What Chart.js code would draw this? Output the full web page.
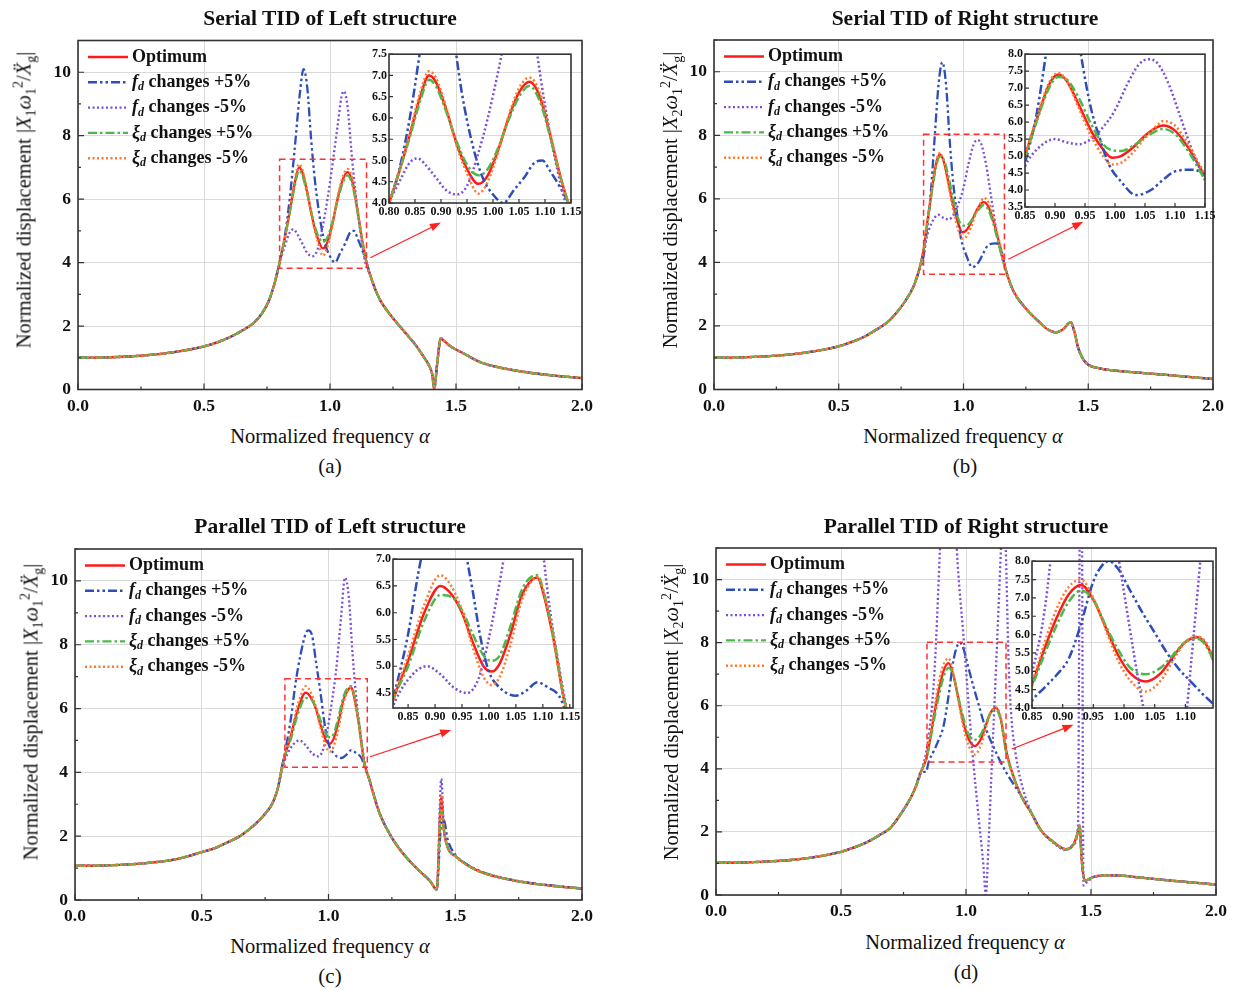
<!DOCTYPE html>
<html>
<head>
<meta charset="utf-8">
<script src="https://cdn.jsdelivr.net/npm/chart.js@4.4.1/dist/chart.umd.min.js"></script>
<style>
  body { margin: 0; background: #fff; }
  #fig { position: relative; width: 1234px; height: 990px; font-family: "Liberation Serif", "Times New Roman", serif; color: #111; }
  canvas { position: absolute; }
  .t { position: absolute; transform: translate(-50%, -50%); white-space: nowrap; }
  .title { font-weight: bold; font-size: 21.5px; }
  .xt { font-size: 20.5px; }
  .cap { font-size: 21px; }
  .yt { font-size: 20.5px; transform: translate(-50%, -50%) rotate(-90deg); }
  .yt sub, .yt sup { font-size: 14px; }
</style>
</head>
<body>
<div id="fig">
  <canvas id="ca"></canvas><canvas id="ia"></canvas>
  <canvas id="cb"></canvas><canvas id="ib"></canvas>
  <canvas id="cc"></canvas><canvas id="ic"></canvas>
  <canvas id="cd"></canvas><canvas id="id"></canvas>

  <div class="t title" style="left:330px;top:18px">Serial TID of Left structure</div>
  <div class="t title" style="left:965px;top:18px">Serial TID of Right structure</div>
  <div class="t title" style="left:330px;top:526px">Parallel TID of Left structure</div>
  <div class="t title" style="left:966px;top:526px">Parallel TID of Right structure</div>

  <div class="t yt" style="left:25px;top:200px">Normalized displacement |<i>X</i><sub>1</sub><i>ω</i><sub>1</sub><sup>2</sup>/<i>X&#776;</i><sub>g</sub>|</div>
  <div class="t yt" style="left:672px;top:200px">Normalized displacement |<i>X</i><sub>2</sub><i>ω</i><sub>1</sub><sup>2</sup>/<i>X&#776;</i><sub>g</sub>|</div>
  <div class="t yt" style="left:32px;top:712px">Normalized displacement |<i>X</i><sub>1</sub><i>ω</i><sub>1</sub><sup>2</sup>/<i>X&#776;</i><sub>g</sub>|</div>
  <div class="t yt" style="left:673px;top:712px">Normalized displacement |<i>X</i><sub>2</sub><i>ω</i><sub>1</sub><sup>2</sup>/<i>X&#776;</i><sub>g</sub>|</div>

  <div class="t xt" style="left:330px;top:436px">Normalized frequency <i>α</i></div>
  <div class="t xt" style="left:963px;top:436px">Normalized frequency <i>α</i></div>
  <div class="t xt" style="left:330px;top:946px">Normalized frequency <i>α</i></div>
  <div class="t xt" style="left:965px;top:942px">Normalized frequency <i>α</i></div>

  <div class="t cap" style="left:330px;top:466px">(a)</div>
  <div class="t cap" style="left:965px;top:466px">(b)</div>
  <div class="t cap" style="left:330px;top:976px">(c)</div>
  <div class="t cap" style="left:966px;top:972px">(d)</div>
</div>

<script>
'use strict';

// Tick labels
const mainXTicks = [0, 0.5, 1.0, 1.5, 2.0];
const mainYTicks = [0, 2, 4, 6, 8, 10];
const aInsetXTicks = [0.80, 0.85, 0.90, 0.95, 1.00, 1.05, 1.10, 1.15];
const aInsetYTicks = [4.0, 4.5, 5.0, 5.5, 6.0, 6.5, 7.0, 7.5];
const bInsetXTicks = [0.85, 0.90, 0.95, 1.00, 1.05, 1.10, 1.15];
const bInsetYTicks = [3.5, 4.0, 4.5, 5.0, 5.5, 6.0, 6.5, 7.0, 7.5, 8.0];
const cInsetXTicks = [0.85, 0.90, 0.95, 1.00, 1.05, 1.10, 1.15];
const cInsetYTicks = [4.5, 5.0, 5.5, 6.0, 6.5, 7.0];
const dInsetXTicks = [0.85, 0.90, 0.95, 1.00, 1.05, 1.10];
const dInsetYTicks = [4.0, 4.5, 5.0, 5.5, 6.0, 6.5, 7.0, 7.5, 8.0];

// (a) Serial TID of Left structure
const aLoX = [0, 0.1, 0.2, 0.3, 0.4, 0.5, 0.55, 0.6, 0.65, 0.7, 0.73, 0.76, 0.78];
const aLoY = [1.0, 1.01, 1.04, 1.1, 1.2, 1.36, 1.48, 1.64, 1.85, 2.12, 2.4, 2.85, 3.35];
const aMidX = [0.80, 0.82, 0.84, 0.86, 0.877, 0.89, 0.91, 0.93, 0.95, 0.972, 0.99, 1.01, 1.03, 1.05, 1.07, 1.09, 1.11, 1.13, 1.145];
const aOptY = [4.0, 4.75, 5.6, 6.5, 7.0, 6.85, 6.2, 5.4, 4.8, 4.45, 4.65, 5.25, 6.0, 6.6, 6.85, 6.5, 5.6, 4.6, 4.0];
const aXpY = [4.0, 4.75, 5.55, 6.4, 6.9, 6.75, 6.15, 5.45, 4.9, 4.65, 4.8, 5.3, 5.95, 6.5, 6.75, 6.4, 5.55, 4.6, 4.0];
const aXmY = [4.0, 4.75, 5.65, 6.6, 7.1, 6.95, 6.25, 5.35, 4.7, 4.22, 4.5, 5.2, 6.05, 6.7, 6.95, 6.6, 5.65, 4.6, 4.0];
const aFpX = [0.80, 0.82, 0.84, 0.86, 0.88, 0.895, 0.91, 0.925, 0.94, 0.96, 0.98, 1.00, 1.02, 1.04, 1.06, 1.08, 1.095, 1.11, 1.13, 1.145];
const aFpY = [4.0, 4.8, 6.0, 7.6, 9.3, 10.1, 9.5, 7.9, 6.6, 5.4, 4.6, 4.2, 4.0, 4.3, 4.6, 4.95, 5.0, 4.75, 4.35, 4.0];
const aFmX = [0.80, 0.82, 0.84, 0.855, 0.87, 0.89, 0.91, 0.93, 0.95, 0.97, 0.99, 1.01, 1.03, 1.045, 1.055, 1.07, 1.085, 1.10, 1.12, 1.14];
const aFmY = [4.0, 4.5, 4.95, 5.05, 4.9, 4.6, 4.3, 4.2, 4.4, 5.1, 6.0, 7.1, 8.3, 9.2, 9.4, 8.9, 7.5, 6.3, 5.0, 4.0];
const aHiX = [1.16, 1.18, 1.2, 1.23, 1.26, 1.3, 1.34, 1.37, 1.39, 1.405, 1.414, 1.425, 1.44, 1.45, 1.48, 1.52, 1.6, 1.7, 1.8, 1.9, 2.0];
const aHiY = [3.6, 3.15, 2.8, 2.45, 2.15, 1.78, 1.4, 1.05, 0.8, 0.5, 0.03, 0.8, 1.62, 1.55, 1.35, 1.18, 0.85, 0.65, 0.52, 0.43, 0.36];

// (b) Serial TID of Right structure
const bLoX = [0, 0.1, 0.2, 0.3, 0.4, 0.5, 0.55, 0.6, 0.65, 0.7, 0.75, 0.78, 0.8, 0.82];
const bLoY = [1.0, 1.01, 1.04, 1.1, 1.2, 1.36, 1.49, 1.65, 1.88, 2.15, 2.6, 2.95, 3.25, 3.7];
const bMidX = [0.84, 0.85, 0.87, 0.89, 0.905, 0.92, 0.94, 0.96, 0.98, 0.995, 1.01, 1.03, 1.05, 1.07, 1.08, 1.10, 1.12, 1.15];
const bOptY = [4.4, 5.0, 6.1, 7.1, 7.4, 7.2, 6.5, 5.75, 5.2, 4.95, 5.0, 5.25, 5.6, 5.85, 5.9, 5.75, 5.3, 4.4];
const bXpY = [4.4, 4.95, 6.05, 7.0, 7.33, 7.25, 6.7, 5.95, 5.35, 5.17, 5.15, 5.3, 5.55, 5.75, 5.8, 5.65, 5.2, 4.3];
const bXmY = [4.4, 5.0, 6.15, 7.15, 7.45, 7.2, 6.4, 5.6, 5.0, 4.75, 4.8, 5.1, 5.55, 5.9, 6.03, 5.9, 5.4, 4.45];
const bFpX = [0.84, 0.85, 0.87, 0.885, 0.90, 0.915, 0.93, 0.945, 0.96, 0.975, 0.99, 1.01, 1.035, 1.06, 1.08, 1.10, 1.13, 1.15];
const bFpY = [4.2, 4.8, 6.3, 8.0, 9.6, 10.3, 9.6, 7.8, 6.4, 5.5, 4.75, 4.25, 3.85, 4.0, 4.3, 4.55, 4.6, 4.4];
const bFmX = [0.84, 0.85, 0.87, 0.90, 0.92, 0.94, 0.96, 0.98, 1.00, 1.02, 1.04, 1.055, 1.07, 1.09, 1.11, 1.13, 1.15];
const bFmY = [4.2, 4.7, 5.2, 5.5, 5.4, 5.35, 5.5, 5.85, 6.35, 7.1, 7.7, 7.85, 7.75, 7.1, 6.1, 5.1, 4.3];
const bHiX = [1.17, 1.2, 1.25, 1.3, 1.34, 1.37, 1.40, 1.43, 1.445, 1.46, 1.48, 1.5, 1.55, 1.6, 1.7, 1.8, 1.9, 2.0];
const bHiY = [3.75, 3.1, 2.55, 2.15, 1.88, 1.8, 1.9, 2.12, 1.8, 1.3, 0.95, 0.78, 0.66, 0.6, 0.53, 0.47, 0.4, 0.33];

// (c) Parallel TID of Left structure
const cLoX = [0, 0.1, 0.2, 0.3, 0.4, 0.5, 0.55, 0.6, 0.65, 0.7, 0.75, 0.78, 0.8];
const cLoY = [1.07, 1.08, 1.11, 1.17, 1.28, 1.5, 1.62, 1.8, 2.0, 2.3, 2.7, 3.05, 3.5];
const cMidX = [0.82, 0.85, 0.88, 0.91, 0.93, 0.95, 0.97, 0.99, 1.005, 1.02, 1.04, 1.06, 1.08, 1.09, 1.10, 1.12, 1.14];
const cOptY = [4.3, 5.1, 6.0, 6.5, 6.35, 6.0, 5.45, 5.0, 4.9, 5.05, 5.6, 6.3, 6.62, 6.66, 6.4, 5.5, 4.35];
const cXpY = [4.3, 5.0, 5.85, 6.33, 6.3, 6.05, 5.6, 5.2, 5.1, 5.2, 5.75, 6.4, 6.68, 6.7, 6.45, 5.55, 4.35];
const cXmY = [4.3, 5.2, 6.15, 6.7, 6.5, 6.05, 5.35, 4.8, 4.65, 4.8, 5.4, 6.2, 6.6, 6.66, 6.45, 5.5, 4.35];
const cFpX = [0.82, 0.85, 0.87, 0.89, 0.91, 0.92, 0.935, 0.95, 0.97, 0.985, 1.00, 1.02, 1.05, 1.07, 1.09, 1.11, 1.13, 1.145];
const cFpY = [4.3, 5.6, 6.8, 7.7, 8.35, 8.45, 8.3, 7.5, 6.4, 5.5, 4.9, 4.6, 4.45, 4.55, 4.7, 4.6, 4.45, 4.1];
const cFmX = [0.82, 0.85, 0.885, 0.91, 0.935, 0.96, 0.98, 0.995, 1.015, 1.03, 1.05, 1.065, 1.08, 1.095, 1.11, 1.13, 1.145];
const cFmY = [4.2, 4.75, 5.0, 4.85, 4.6, 4.5, 4.75, 5.3, 6.3, 7.2, 8.9, 10.1, 9.5, 7.7, 6.3, 5.0, 4.2];
const cHiX = [1.16, 1.2, 1.25, 1.28, 1.32, 1.36, 1.40, 1.427, 1.445, 1.455, 1.47, 1.5, 1.55, 1.6, 1.7, 1.8, 1.9, 2.0];
const cHiOptY = [3.8, 2.75, 1.95, 1.6, 1.22, 0.9, 0.6, 0.33, 3.25, 2.2, 1.65, 1.38, 1.08, 0.88, 0.66, 0.52, 0.43, 0.36];
const cHiFpY = [3.8, 2.75, 1.95, 1.6, 1.22, 0.9, 0.6, 0.33, 2.4, 2.5, 1.9, 1.42, 1.1, 0.9, 0.67, 0.53, 0.44, 0.36];
const cHiFmY = [3.8, 2.75, 1.95, 1.6, 1.22, 0.9, 0.6, 0.33, 3.8, 2.3, 1.65, 1.38, 1.08, 0.88, 0.66, 0.52, 0.43, 0.36];
const cHiXpY = [3.8, 2.75, 1.95, 1.6, 1.22, 0.9, 0.6, 0.33, 2.8, 2.2, 1.65, 1.38, 1.08, 0.88, 0.66, 0.52, 0.43, 0.36];
const cHiXmY = [3.8, 2.75, 1.95, 1.6, 1.22, 0.9, 0.6, 0.33, 3.3, 2.25, 1.65, 1.38, 1.08, 0.88, 0.66, 0.52, 0.43, 0.36];

// (d) Parallel TID of Right structure
const dLoX = [0, 0.1, 0.2, 0.3, 0.4, 0.5, 0.55, 0.6, 0.65, 0.7, 0.75, 0.78, 0.8, 0.82];
const dLoY = [1.02, 1.03, 1.06, 1.11, 1.21, 1.37, 1.5, 1.66, 1.88, 2.15, 2.7, 3.1, 3.45, 3.9];
const dMidX = [0.84, 0.85, 0.87, 0.89, 0.91, 0.93, 0.95, 0.97, 0.99, 1.01, 1.035, 1.06, 1.08, 1.10, 1.12, 1.14, 1.16];
const dOptY = [4.3, 4.65, 5.6, 6.45, 7.1, 7.35, 6.95, 6.2, 5.45, 4.95, 4.72, 4.95, 5.4, 5.8, 5.93, 5.55, 4.6];
const dXpY = [4.3, 4.6, 5.45, 6.25, 6.9, 7.2, 6.95, 6.25, 5.6, 5.1, 4.92, 5.1, 5.45, 5.8, 5.88, 5.5, 4.55];
const dXmY = [4.3, 4.7, 5.75, 6.7, 7.3, 7.5, 7.0, 6.15, 5.3, 4.75, 4.45, 4.75, 5.3, 5.8, 5.95, 5.6, 4.6];
const dFpX = [0.84, 0.85, 0.87, 0.89, 0.91, 0.93, 0.95, 0.965, 0.975, 0.99, 1.01, 1.03, 1.05, 1.07, 1.09, 1.11, 1.13, 1.16];
const dFpY = [3.9, 4.2, 4.55, 4.9, 5.35, 6.3, 7.45, 7.9, 8.0, 7.8, 7.2, 6.6, 6.05, 5.5, 5.05, 4.7, 4.35, 3.9];
const dFmX = [0.84, 0.855, 0.87, 0.88, 0.896, 0.91, 0.93, 0.95, 0.963, 0.99, 1.025, 1.05, 1.07, 1.079, 1.09, 1.10, 1.12, 1.14, 1.15, 1.159, 1.17, 1.18, 1.2, 1.23, 1.26];
const dFmY = [4.5, 5.3, 6.6, 8.0, 11.0, 13.5, 15, 13.5, 11.0, 8.2, 4.6, 2.5, 0.9, 0.0, 1.6, 3.5, 7.2, 11.0, 13, 11.0, 7.5, 5.8, 4.4, 3.3, 2.65];
const dHiX = [1.22, 1.26, 1.3, 1.35, 1.40, 1.43, 1.448, 1.455, 1.462, 1.47, 1.478, 1.49, 1.51, 1.55, 1.6, 1.7, 1.8, 1.9, 2.0];
const dHiY = [3.15, 2.62, 2.05, 1.68, 1.45, 1.6, 2.0, 2.2, 1.2, 0.6, 0.45, 0.5, 0.57, 0.62, 0.62, 0.55, 0.47, 0.4, 0.33];
const dFmHiX = [1.3, 1.35, 1.40, 1.43, 1.448, 1.456, 1.463, 1.47, 1.476, 1.49, 1.51, 1.55, 1.6, 1.7, 1.8, 1.9, 2.0];
const dFmHiY = [2.05, 1.65, 1.42, 1.6, 2.2, 12, 12, 0.3, 0.35, 0.45, 0.57, 0.62, 0.62, 0.55, 0.47, 0.4, 0.33];

const FONT = '"Liberation Serif", "Times New Roman", serif';

// Line styles: Optimum, fd +5%, fd -5%, xi +5%, xi -5%
const STYLE = [
  { color: '#ff1a1a', dash: [] },
  { color: '#2d4db8', dash: [9, 3, 2.5, 3, 2.5, 3] },
  { color: '#7a4fd6', dash: [2, 2.5] },
  { color: '#4cb84a', dash: [9, 3, 2.5, 3] },
  { color: '#ff7a2a', dash: [2, 2.5] }
];

const LEGEND = [
  [['Optimum', 'b']],
  [['f', 'i'], ['d', 's'], [' changes +5%', 'b']],
  [['f', 'i'], ['d', 's'], [' changes -5%', 'b']],
  [['\u03BE', 'i'], ['d', 's'], [' changes +5%', 'b']],
  [['\u03BE', 'i'], ['d', 's'], [' changes -5%', 'b']]
];

// join x/y segments into points
function pts() {
  const out = [];
  for (let k = 0; k < arguments.length; k += 2) {
    const xs = arguments[k], ys = arguments[k + 1];
    xs.forEach(function (x, i) { out.push({ x: x, y: ys[i] }); });
  }
  return out;
}

function makeSets(series, lw) {
  return series.map(function (data, i) {
    return {
      data: data,
      borderColor: STYLE[i].color,
      borderDash: STYLE[i].dash,
      borderWidth: lw,
      pointRadius: 0,
      fill: false,
      cubicInterpolationMode: 'monotone',
      order: series.length - i
    };
  });
}

// inner ticks, frame, zoom box and arrow
const framePlugin = {
  id: 'frame',
  afterDatasetsDraw(chart, args, o) {
    const ctx = chart.ctx, a = chart.chartArea, sx = chart.scales.x, sy = chart.scales.y;
    ctx.save();
    if (o.box) {
      const b = o.box;
      ctx.strokeStyle = '#ff3030';
      ctx.lineWidth = 1.5;
      ctx.setLineDash([6, 4]);
      ctx.strokeRect(sx.getPixelForValue(b[0]), sy.getPixelForValue(b[3]),
        sx.getPixelForValue(b[1]) - sx.getPixelForValue(b[0]),
        sy.getPixelForValue(b[2]) - sy.getPixelForValue(b[3]));
      ctx.setLineDash([]);
    }
    if (o.arrow) {
      const r = o.arrow;
      const x0 = sx.getPixelForValue(r[0]), y0 = sy.getPixelForValue(r[1]);
      const x1 = sx.getPixelForValue(r[2]), y1 = sy.getPixelForValue(r[3]);
      const ang = Math.atan2(y1 - y0, x1 - x0);
      ctx.strokeStyle = '#ff2020';
      ctx.fillStyle = '#ff2020';
      ctx.lineWidth = 1.2;
      ctx.beginPath();
      ctx.moveTo(x0, y0);
      ctx.lineTo(x1 - 8 * Math.cos(ang), y1 - 8 * Math.sin(ang));
      ctx.stroke();
      ctx.beginPath();
      ctx.moveTo(x1, y1);
      ctx.lineTo(x1 - 11 * Math.cos(ang) + 4 * Math.sin(ang), y1 - 11 * Math.sin(ang) - 4 * Math.cos(ang));
      ctx.lineTo(x1 - 11 * Math.cos(ang) - 4 * Math.sin(ang), y1 - 11 * Math.sin(ang) + 4 * Math.cos(ang));
      ctx.closePath();
      ctx.fill();
    }
    ctx.strokeStyle = '#333';
    ctx.lineWidth = 1.2;
    ctx.beginPath();
    const xt = sx.ticks.map(function (t) { return t.value; });
    const yt = sy.ticks.map(function (t) { return t.value; });
    xt.forEach(function (v) {
      const p = sx.getPixelForValue(v);
      ctx.moveTo(p, a.bottom); ctx.lineTo(p, a.bottom - o.tick);
    });
    yt.forEach(function (v) {
      const p = sy.getPixelForValue(v);
      ctx.moveTo(a.left, p); ctx.lineTo(a.left + o.tick, p);
    });
    if (o.minor) {
      for (let i = 0; i < xt.length - 1; i++) {
        const p = sx.getPixelForValue((xt[i] + xt[i + 1]) / 2);
        ctx.moveTo(p, a.bottom); ctx.lineTo(p, a.bottom - o.tick / 2);
      }
      for (let i = 0; i < yt.length; i++) {
        const v = yt[i] + (i < yt.length - 1 ? (yt[i + 1] - yt[i]) / 2 : 1);
        if (v > sy.max) continue;
        const p = sy.getPixelForValue(v);
        ctx.moveTo(a.left, p); ctx.lineTo(a.left + o.tick / 2, p);
      }
    }
    ctx.stroke();
    ctx.lineWidth = o.frameWidth;
    ctx.strokeRect(a.left, a.top, a.right - a.left, a.bottom - a.top);
    ctx.restore();
  }
};

// legend inside the plot area
const legendPlugin = {
  id: 'legendIn',
  afterDraw(chart, args, o) {
    const ctx = chart.ctx, a = chart.chartArea;
    chart.data.datasets.forEach(function (ds, i) {
      const y = a.top + o.dy + i * 25.3;
      const x0 = a.left + o.dx;
      ctx.save();
      ctx.strokeStyle = ds.borderColor;
      ctx.lineWidth = 2.4;
      ctx.setLineDash(ds.borderDash);
      ctx.beginPath();
      ctx.moveTo(x0, y);
      ctx.lineTo(x0 + 40, y);
      ctx.stroke();
      ctx.restore();
      let x = x0 + 44;
      ctx.save();
      ctx.fillStyle = '#111';
      ctx.textBaseline = 'middle';
      LEGEND[i].forEach(function (part) {
        let dy = 0;
        if (part[1] === 'b') ctx.font = 'bold 18px ' + FONT;
        else if (part[1] === 'i') ctx.font = 'italic bold 18px ' + FONT;
        else { ctx.font = 'italic bold 12px ' + FONT; dy = 5; }
        ctx.fillText(part[0], x, y + dy);
        x += ctx.measureText(part[0]).width;
      });
      ctx.restore();
    });
  }
};

function place(cv, x, y, w, h) {
  cv.width = w; cv.height = h;
  cv.style.left = x + 'px'; cv.style.top = y + 'px';
  cv.style.width = w + 'px'; cv.style.height = h + 'px';
}

function axis(min, max, ticks, fmt, fit, font, grid, pad) {
  return {
    type: 'linear', min: min, max: max,
    afterBuildTicks: function (s) { s.ticks = ticks.map(function (v) { return { value: v }; }); },
    afterFit: fit,
    border: { display: false },
    grid: grid ? { color: '#dadada', lineWidth: 1, drawTicks: false } : { display: false, drawTicks: false },
    ticks: { color: '#111', padding: pad, font: font, callback: fmt, maxRotation: 0, autoSkip: false }
  };
}

function mainChart(id, pos, plot, series, box, arrow) {
  const cv = document.getElementById(id);
  place(cv, pos.x, pos.y, pos.w, pos.h);
  const yw = plot.L - pos.x, xh = pos.y + pos.h - plot.B;
  const font = { family: FONT, weight: 'bold', size: 17.5 };
  return new Chart(cv, {
    type: 'line',
    data: { datasets: makeSets(series, 2.3) },
    options: {
      responsive: false, animation: false, devicePixelRatio: 1,
      layout: { padding: { top: plot.T - pos.y, right: pos.x + pos.w - plot.R, left: 0, bottom: 0 } },
      plugins: {
        legend: { display: false }, tooltip: { enabled: false },
        frame: { box: box, arrow: arrow, tick: 6, minor: true, frameWidth: 1.6 },
        legendIn: { dx: 10, dy: 16.5 }
      },
      scales: {
        x: axis(0, 2, mainXTicks, function (v) { return v.toFixed(1); }, function (s) { s.height = xh; }, font, true, 6),
        y: axis(0, 11, mainYTicks, function (v) { return String(Math.round(v)); }, function (s) { s.width = yw; }, font, true, 7)
      }
    },
    plugins: [framePlugin, legendPlugin]
  });
}

function insetChart(id, area, series, xr, yr, xTicks, yTicks) {
  const cv = document.getElementById(id);
  place(cv, area.L - 32, area.T - 8, area.R - area.L + 46, area.B - area.T + 26);
  const font = { family: FONT, weight: 'bold', size: 12 };
  return new Chart(cv, {
    type: 'line',
    data: { datasets: makeSets(series, 2.5) },
    options: {
      responsive: false, animation: false, devicePixelRatio: 1,
      layout: { padding: { top: 8, right: 14, left: 0, bottom: 0 } },
      plugins: {
        legend: { display: false }, tooltip: { enabled: false },
        frame: { tick: 4, minor: false, frameWidth: 1.6 }
      },
      scales: {
        x: axis(xr[0], xr[1], xTicks, function (v) { return v.toFixed(2); }, function (s) { s.height = 18; }, font, false, 2),
        y: axis(yr[0], yr[1], yTicks, function (v) { return v.toFixed(1); }, function (s) { s.width = 32; }, font, false, 2)
      }
    },
    plugins: [framePlugin]
  });
}

// series lists
const aSeries = [
  pts(aLoX, aLoY, aMidX, aOptY, aHiX, aHiY),
  pts(aLoX, aLoY, aFpX, aFpY, aHiX, aHiY),
  pts(aLoX, aLoY, aFmX, aFmY, aHiX, aHiY),
  pts(aLoX, aLoY, aMidX, aXpY, aHiX, aHiY),
  pts(aLoX, aLoY, aMidX, aXmY, aHiX, aHiY)
];
const bSeries = [
  pts(bLoX, bLoY, bMidX, bOptY, bHiX, bHiY),
  pts(bLoX, bLoY, bFpX, bFpY, bHiX, bHiY),
  pts(bLoX, bLoY, bFmX, bFmY, bHiX, bHiY),
  pts(bLoX, bLoY, bMidX, bXpY, bHiX, bHiY),
  pts(bLoX, bLoY, bMidX, bXmY, bHiX, bHiY)
];
const cSeries = [
  pts(cLoX, cLoY, cMidX, cOptY, cHiX, cHiOptY),
  pts(cLoX, cLoY, cFpX, cFpY, cHiX, cHiFpY),
  pts(cLoX, cLoY, cFmX, cFmY, cHiX, cHiFmY),
  pts(cLoX, cLoY, cMidX, cXpY, cHiX, cHiXpY),
  pts(cLoX, cLoY, cMidX, cXmY, cHiX, cHiXmY)
];
const dSeries = [
  pts(dLoX, dLoY, dMidX, dOptY, dHiX, dHiY),
  pts(dLoX, dLoY, dFpX, dFpY, dHiX, dHiY),
  pts(dLoX, dLoY, dFmX, dFmY, dFmHiX, dFmHiY),
  pts(dLoX, dLoY, dMidX, dXpY, dHiX, dHiY),
  pts(dLoX, dLoY, dMidX, dXmY, dHiX, dHiY)
];

mainChart('ca', { x: 0, y: 0, w: 617, h: 420 }, { L: 78, R: 582, T: 40.5, B: 389.5 }, aSeries,
  [0.80, 1.145, 3.82, 7.26], [1.16, 4.15, 1.44, 5.26]);
mainChart('cb', { x: 617, y: 0, w: 617, h: 420 }, { L: 714, R: 1213, T: 40, B: 389.5 }, bSeries,
  [0.84, 1.164, 3.63, 8.03], [1.18, 4.1, 1.48, 5.28]);
mainChart('cc', { x: 0, y: 500, w: 617, h: 430 }, { L: 75, R: 582, T: 549, B: 900 }, cSeries,
  [0.828, 1.153, 4.16, 6.93], [1.164, 4.49, 1.484, 5.33]);
mainChart('cd', { x: 617, y: 500, w: 617, h: 430 }, { L: 716, R: 1216, T: 548, B: 895 }, dSeries,
  [0.844, 1.16, 4.22, 8.01], [1.183, 4.63, 1.43, 5.4]);

insetChart('ia', { L: 389, R: 571, T: 53, B: 203 }, aSeries, [0.80, 1.15], [4.0, 7.5], aInsetXTicks, aInsetYTicks);
insetChart('ib', { L: 1025, R: 1205, T: 53, B: 207 }, bSeries, [0.85, 1.15], [3.5, 8.0], bInsetXTicks, bInsetYTicks);
insetChart('ic', { L: 393, R: 573, T: 558, B: 708 }, cSeries, [0.822, 1.156], [4.22, 7.0], cInsetXTicks, cInsetYTicks);
insetChart('id', { L: 1032, R: 1213, T: 560, B: 708 }, dSeries, [0.85, 1.145], [4.0, 8.0], dInsetXTicks, dInsetYTicks);
</script>
</body>
</html>
